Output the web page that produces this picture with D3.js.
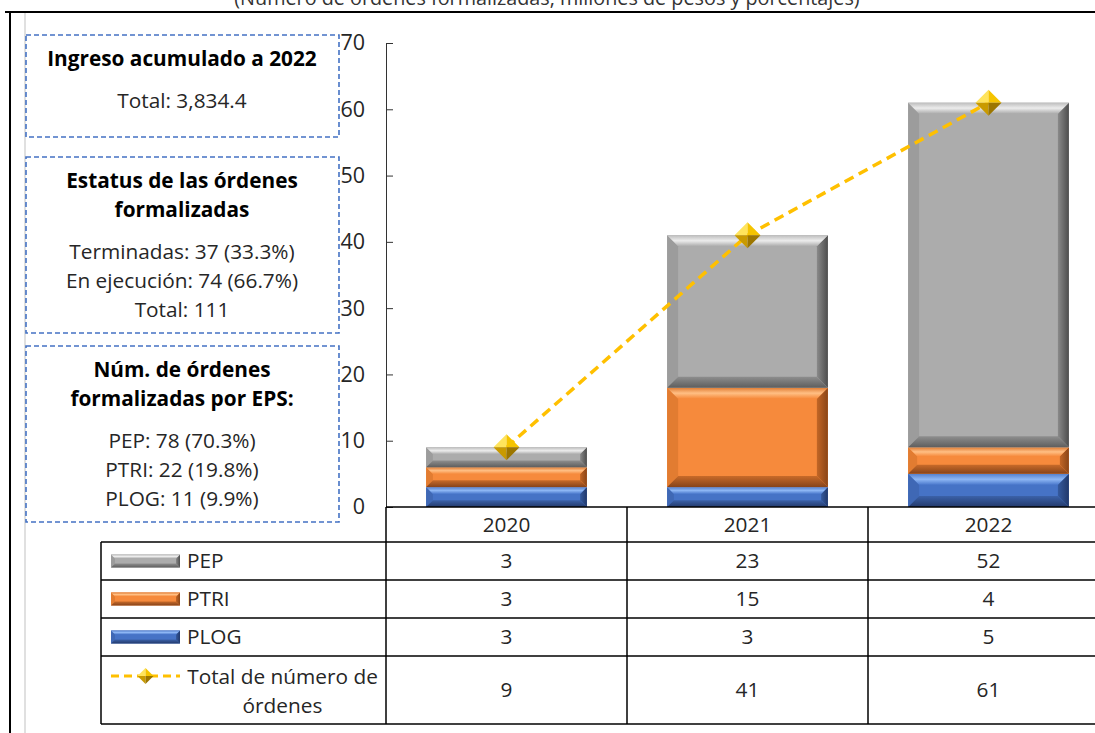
<!DOCTYPE html>
<html>
<head>
<meta charset="utf-8">
<script src="https://cdn.jsdelivr.net/npm/d3@7"></script>
<style>
  body { margin: 0; background: #fff; }
  svg { display: block; font-family: "Open Sans", "Noto Sans", sans-serif; }
</style>
</head>
<body>
<div id="viz"></div>
<script>
// values
const years = ["2020", "2021", "2022"];
const pep = [3, 23, 52];
const ptri = [3, 15, 4];
const plog = [3, 3, 5];
const total = [9, 41, 61];
const yTicks = [0, 10, 20, 30, 40, 50, 60, 70];
const seriesNames = ["PEP", "PTRI", "PLOG"];
const lineName = ["Total de número de", "órdenes"];

const titleText = "(Número de órdenes formalizadas, millones de pesos y porcentajes)";
const boxes = [
  { bold: ["Ingreso acumulado a 2022"], plain: ["Total: 3,834.4"] },
  { bold: ["Estatus de las órdenes", "formalizadas"],
    plain: ["Terminadas: 37 (33.3%)", "En ejecución: 74 (66.7%)", "Total: 111"] },
  { bold: ["Núm. de órdenes", "formalizadas por EPS:"],
    plain: ["PEP: 78 (70.3%)", "PTRI: 22 (19.8%)", "PLOG: 11 (9.9%)"] }
];

const width = 1095, height = 733;
const fs = 20.8;

// bevel colours per series: main, top(edge, highlight, inner), bottom(inner, edge), left, right
const palette = {
  PEP:  { main: "#acacac", top: ["#bdbdbd", "#ececec", "#acacac"], bot: ["#8e8e8e", "#5e5e5e"], left: "#9c9c9c", right: ["#8a8a8a", "#4d4d4d"] },
  PTRI: { main: "#f68a3c", top: ["#e07c34", "#ffbf84", "#f68a3c"], bot: ["#c76a29", "#86431a"], left: "#e27c31", right: ["#c26626", "#8a4517"] },
  PLOG: { main: "#4673c6", top: ["#5580cc", "#8db6f4", "#4a78cc"], bot: ["#3b61a8", "#233a6c"], left: "#3f68b5", right: ["#355a9e", "#21386a"] }
};

const svg = d3.select("#viz").append("svg")
  .attr("width", width).attr("height", height)
  .attr("viewBox", [0, 0, width, height]);

const defs = svg.append("defs");
const grad = (id, dir, stops) => {
  const g = defs.append("linearGradient").attr("id", id)
    .attr("x1", 0).attr("y1", 0)
    .attr("x2", dir == "h" ? 1 : 0).attr("y2", dir == "h" ? 0 : 1);
  stops.forEach((c, i) => g.append("stop")
    .attr("offset", i / (stops.length - 1)).attr("stop-color", c));
};
for (const k in palette) {
  const p = palette[k];
  grad("top-" + k, "v", p.top);
  grad("bot-" + k, "v", p.bot);
  grad("right-" + k, "h", p.right);
}

// frame lines
svg.append("line").attr("x1", 5).attr("x2", width).attr("y1", 12).attr("y2", 12)
  .attr("stroke", "#000").attr("stroke-width", 2);
svg.append("line").attr("x1", 10).attr("x2", 10).attr("y1", 12).attr("y2", height)
  .attr("stroke", "#000").attr("stroke-width", 2);
svg.append("line").attr("x1", 25).attr("x2", 25).attr("y1", 13).attr("y2", height)
  .attr("stroke", "#e0e0e0").attr("stroke-width", 2);

// title sits partly above the top edge, as in the source
svg.append("text").attr("x", 547).attr("y", 5).attr("text-anchor", "middle")
  .attr("font-size", 19.8).attr("fill", "#333").text(titleText);

// scales
const xCol = d3.scaleBand().domain(years).range([386, 1109]).padding(0);
const barW = xCol.bandwidth() * 0.667;
const barX = d => xCol(d) + (xCol.bandwidth() - barW) / 2;
const y = d3.scaleLinear().domain([0, 70]).range([507, 43]);

// y axis, ticks point inward
const yAxis = svg.append("g").attr("transform", "translate(386,0)")
  .call(d3.axisLeft(y).tickValues(yTicks).tickSizeInner(-7).tickSizeOuter(0).tickPadding(21));
yAxis.select(".domain").attr("stroke", "#333");
yAxis.selectAll(".tick line").attr("stroke", "#333");
yAxis.selectAll(".tick text").attr("font-size", 21.5).attr("fill", "#262626")
  .attr("font-family", "'Open Sans', sans-serif");

// bevelled rectangle
const bevelRect = (g, x, yy, w, h, key, b) => {
  const p = palette[key];
  g.append("rect").attr("x", x).attr("y", yy).attr("width", w).attr("height", h).attr("fill", p.main);
  const poly = (pts, fill) => g.append("polygon")
    .attr("points", pts.map(q => q.join(",")).join(" ")).attr("fill", fill);
  poly([[x, yy], [x + b, yy + b], [x + b, yy + h - b], [x, yy + h]], p.left);
  poly([[x + w, yy], [x + w - b, yy + b], [x + w - b, yy + h - b], [x + w, yy + h]], `url(#right-${key})`);
  poly([[x, yy], [x + w, yy], [x + w - b, yy + b], [x + b, yy + b]], `url(#top-${key})`);
  poly([[x + b, yy + h - b], [x + w - b, yy + h - b], [x + w, yy + h], [x, yy + h]], `url(#bot-${key})`);
};

// stacked bars
const stackData = years.map((yr, i) => ({ year: yr, PLOG: plog[i], PTRI: ptri[i], PEP: pep[i] }));
const stacked = d3.stack().keys(["PLOG", "PTRI", "PEP"])(stackData);
const barsG = svg.append("g");
stacked.forEach(layer => {
  layer.forEach(seg => {
    const y0 = y(seg[0]), y1 = y(seg[1]);
    const h = y0 - y1;
    bevelRect(barsG.append("g"), barX(seg.data.year), y1, barW, h, layer.key, Math.min(11, h * 0.34));
  });
});

// diamond marker with facets
const diamond = (g, cx, cy, r) => {
  const tri = (pts, fill) => g.append("polygon")
    .attr("points", pts.map(q => q.join(",")).join(" ")).attr("fill", fill);
  tri([[cx, cy], [cx, cy - r], [cx - r, cy]], "#ffe45c");
  tri([[cx, cy], [cx, cy - r], [cx + r, cy]], "#f5c400");
  tri([[cx, cy], [cx - r, cy], [cx, cy + r]], "#c99a00");
  tri([[cx, cy], [cx + r, cy], [cx, cy + r]], "#9c7600");
};

// total line
const line = d3.line().x((d, i) => xCol(years[i]) + xCol.bandwidth() / 2).y(d => y(d));
svg.append("path").datum(total).attr("d", line)
  .attr("fill", "none").attr("stroke", "#ffc000").attr("stroke-width", 3.5)
  .attr("stroke-dasharray", "10,6");
total.forEach((v, i) => diamond(svg.append("g"), xCol(years[i]) + xCol.bandwidth() / 2, y(v), 13));

// data table
const rowTop = [507, 542, 580, 618, 656, 724];
const tableLeft = 101, legendRight = 386;
const grid = svg.append("g").attr("stroke", "#000").attr("stroke-width", 1.5);
grid.append("line").attr("x1", legendRight).attr("x2", width).attr("y1", rowTop[0]).attr("y2", rowTop[0]);
rowTop.slice(1).forEach(ry => grid.append("line")
  .attr("x1", tableLeft).attr("x2", width).attr("y1", ry).attr("y2", ry));
grid.append("line").attr("x1", tableLeft).attr("x2", tableLeft).attr("y1", rowTop[1]).attr("y2", rowTop[5]);
years.forEach(yr => grid.append("line")
  .attr("x1", xCol(yr)).attr("x2", xCol(yr)).attr("y1", rowTop[0]).attr("y2", rowTop[5]));

const cellText = (x, yy, t, anchor) => svg.append("text").attr("x", x).attr("y", yy)
  .attr("text-anchor", anchor || "middle").attr("font-size", fs).attr("fill", "#262626").text(t);

years.forEach(yr => cellText(xCol(yr) + xCol.bandwidth() / 2, 532, yr));
const rows = [pep, ptri, plog, total];
rows.forEach((vals, r) => {
  const cy = (rowTop[r + 1] + rowTop[r + 2]) / 2 + 7;
  vals.forEach((v, i) => cellText(xCol(years[i]) + xCol.bandwidth() / 2, cy, v));
});

// legend keys
seriesNames.forEach((name, r) => {
  const cy = (rowTop[r + 1] + rowTop[r + 2]) / 2;
  bevelRect(svg.append("g"), 111, cy - 6.5, 69, 13, name, 4);
  cellText(187, cy + 7, name, "start");
});
const ly = 676;
svg.append("line").attr("x1", 111).attr("x2", 180).attr("y1", ly).attr("y2", ly)
  .attr("stroke", "#ffc000").attr("stroke-width", 3).attr("stroke-dasharray", "8,5");
diamond(svg.append("g"), 145.5, ly, 8);
cellText(282.5, 684, lineName[0]);
cellText(282.5, 713, lineName[1]);

// annotation boxes
const boxPos = [[35, 137], [157, 333], [346, 522]];
boxes.forEach((bx, i) => {
  const [top, bottom] = boxPos[i];
  svg.append("rect").attr("x", 26).attr("y", top).attr("width", 313).attr("height", bottom - top)
    .attr("fill", "none").attr("stroke", "#4472c4").attr("stroke-width", 1.6)
    .attr("stroke-dasharray", "5,3");
  const cx = 182;
  let ty = top + 31;
  bx.bold.forEach(t => {
    svg.append("text").attr("x", cx).attr("y", ty).attr("text-anchor", "middle")
      .attr("font-size", fs).attr("font-weight", "bold").attr("fill", "#000").text(t);
    ty += 29;
  });
  ty += 13;
  bx.plain.forEach(t => {
    svg.append("text").attr("x", cx).attr("y", ty).attr("text-anchor", "middle")
      .attr("font-size", fs).attr("fill", "#262626").text(t);
    ty += 29;
  });
});
</script>
</body>
</html>
